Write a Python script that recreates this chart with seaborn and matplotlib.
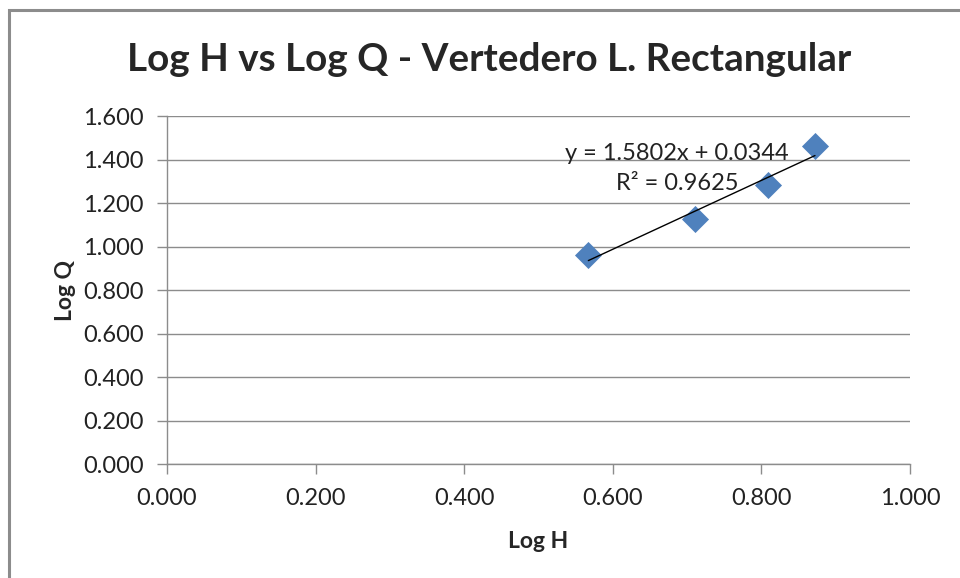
import matplotlib.pyplot as plt
import numpy as np
import pandas as pd
import seaborn as sns

# Data
log_h = [0.567, 0.711, 0.809, 0.872]
log_q = [0.962, 1.128, 1.285, 1.463]
eq_label = 'y = 1.5802x + 0.0344'
r2_label = 'R² = 0.9625'
x_ticks = [0.0, 0.2, 0.4, 0.6, 0.8, 1.0]
y_ticks = [0.0, 0.2, 0.4, 0.6, 0.8, 1.0, 1.2, 1.4, 1.6]

df = pd.DataFrame({'Log H': log_h, 'Log Q': log_q})

sns.set_style('white')
plt.rcParams['font.family'] = ['Lato', 'DejaVu Sans']

fig = plt.figure(figsize=(9.6, 5.78), dpi=100)
ax = fig.add_axes([0.174, 0.197, 0.774, 0.602])

# Chart frame (Excel style)
fig.patches.append(plt.Rectangle((0.009, -0.05), 1.2, 1.032, transform=fig.transFigure,
                                 fill=False, edgecolor='#8c8c8c', lw=2.2, zorder=0))

ax.set_xlim(0, 1)
ax.set_ylim(0, 1.6)
ax.set_xticks(x_ticks)
ax.set_yticks(y_ticks)
ax.set_xticklabels([f'{v:.3f}' for v in x_ticks], fontsize=17, color='#222222')
ax.set_yticklabels([f'{v:.3f}' for v in y_ticks], fontsize=17, color='#222222')
ax.yaxis.grid(True, color='#8c8c8c', lw=1)
ax.set_axisbelow(True)
for s in ['top', 'right']:
    ax.spines[s].set_visible(False)
for s in ['left', 'bottom']:
    ax.spines[s].set_color('#8c8c8c')
    ax.spines[s].set_linewidth(1)
ax.tick_params(axis='both', which='both', direction='out', length=7, width=1,
               color='#8c8c8c', pad=10, left=True, bottom=True)

# Linear trendline
coef = np.polyfit(log_h, log_q, 1)
xs = np.array([min(log_h), max(log_h)])
ax.plot(xs, np.polyval(coef, xs), color='black', lw=1, zorder=3)

sns.scatterplot(data=df, x='Log H', y='Log Q', ax=ax, marker='D', s=190,
                color='#4F81BD', edgecolor='#4F81BD', linewidth=0, zorder=2)

ax.text(0.686, 1.43, eq_label, ha='center', va='center', fontsize=17, color='#222222', zorder=4)
ax.text(0.686, 1.29, r2_label, ha='center', va='center', fontsize=17, color='#222222', zorder=4)

ax.set_xlabel('Log H', fontsize=16.5, fontweight='bold', labelpad=16)
ax.set_ylabel('Log Q', fontsize=16.5, fontweight='bold', labelpad=5)
fig.text(0.51, 0.897, 'Log H vs Log Q - Vertedero L. Rectangular', ha='center', va='center',
         fontsize=27.8, fontweight='bold')

fig.savefig('out.png', dpi=100)
